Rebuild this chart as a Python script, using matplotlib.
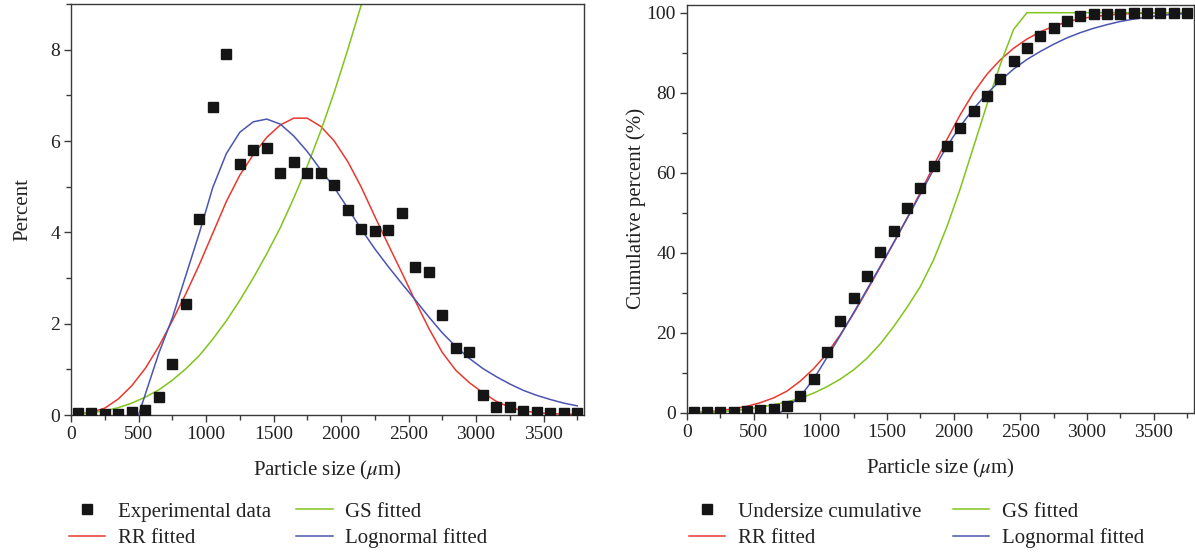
import matplotlib
matplotlib.use("Agg")
import matplotlib.pyplot as plt
from matplotlib.ticker import MultipleLocator

plt.rcParams['font.family'] = ['Liberation Serif', 'DejaVu Serif']
plt.rcParams['mathtext.fontset'] = 'stix'

# particle size classes (um)
size = [50, 150, 250, 350, 450, 550, 650, 750, 850, 950,
        1050, 1150, 1250, 1350, 1450, 1550, 1650, 1750, 1850, 1950,
        2050, 2150, 2250, 2350, 2450, 2550, 2650, 2750, 2850, 2950,
        3050, 3150, 3250, 3350, 3450, 3550, 3650, 3750]

# left panel: frequency (%)
exp_pct = [0.04, 0.04, 0.03, 0.03, 0.07, 0.12, 0.40, 1.12, 2.42, 4.30,
           6.75, 7.90, 5.50, 5.81, 5.85, 5.30, 5.54, 5.29, 5.29, 5.04,
           4.49, 4.08, 4.04, 4.05, 4.43, 3.24, 3.13, 2.18, 1.47, 1.37,
           0.44, 0.17, 0.17, 0.09, 0.07, 0.04, 0.04, 0.04]
rr_pct = [0.02, 0.06, 0.15, 0.35, 0.64, 1.02, 1.50, 2.06, 2.65, 3.29,
          3.98, 4.67, 5.25, 5.70, 6.08, 6.35, 6.50, 6.50, 6.32, 6.00,
          5.55, 4.99, 4.35, 3.73, 3.12, 2.50, 1.90, 1.37, 0.98, 0.71,
          0.49, 0.30, 0.17, 0.09, 0.05, 0.03, 0.02, 0.01]
gs_size = [50, 150, 250, 350, 450, 550, 650, 750, 850, 950,
           1050, 1150, 1250, 1350, 1450, 1550, 1650, 1750, 1850, 1950,
           2050, 2150, 2250]
gs_pct = [0.02, 0.05, 0.09, 0.16, 0.26, 0.39, 0.55, 0.76, 1.01, 1.30,
          1.66, 2.06, 2.51, 3.00, 3.53, 4.10, 4.75, 5.45, 6.22, 7.07,
          8.00, 8.98, 10.0]
ln_size = [500, 550, 650, 750, 850, 950,
           1050, 1150, 1250, 1350, 1450, 1550, 1650, 1750, 1850, 1950,
           2050, 2150, 2250, 2350, 2450, 2550, 2650, 2750, 2850, 2950,
           3050, 3150, 3250, 3350, 3450, 3550, 3650, 3750]
ln_pct = [0.0, 0.45, 1.35, 2.12, 3.05, 3.98,
          4.98, 5.72, 6.19, 6.42, 6.48, 6.37, 6.11, 5.77, 5.37, 4.98,
          4.53, 4.07, 3.64, 3.25, 2.88, 2.52, 2.15, 1.80, 1.50, 1.24,
          1.02, 0.84, 0.68, 0.54, 0.43, 0.34, 0.26, 0.20]

# right panel: cumulative undersize (%)
exp_cum = [0.1, 0.15, 0.2, 0.3, 0.5, 0.7, 1.0, 1.8, 4.1, 8.4,
           15.2, 23.0, 28.6, 34.3, 40.1, 45.5, 51.1, 56.3, 61.75, 66.75,
           71.25, 75.4, 79.3, 83.4, 87.9, 91.1, 94.2, 96.3, 97.9, 99.25,
           99.7, 99.7, 99.8, 99.85, 99.9, 99.9, 99.95, 100.0]
rr_cum = [0.05, 0.2, 0.5, 1.0, 1.6, 2.5, 3.7, 5.4, 7.9, 11.0,
          14.8, 19.5, 24.8, 30.5, 36.4, 42.4, 48.6, 55.0, 61.7, 68.3,
          74.5, 80.0, 84.6, 88.2, 91.1, 93.4, 95.2, 96.6, 97.7, 98.5,
          99.0, 99.4, 99.65, 99.8, 99.9, 99.95, 99.97, 99.99]
gs_cum = [0.0, 0.05, 0.2, 0.5, 0.9, 1.4, 2.0, 2.7, 3.6, 4.9,
          6.5, 8.4, 10.7, 13.6, 17.2, 21.5, 26.3, 31.5, 38.2, 46.5,
          56.0, 66.5, 77.0, 87.0, 95.8, 100, 100, 100, 100, 100,
          100, 100, 100, 100, 100, 100, 100, 100]
ln_cum_size = [700, 750, 850, 950,
               1050, 1150, 1250, 1350, 1450, 1550, 1650, 1750, 1850, 1950,
               2050, 2150, 2250, 2350, 2450, 2550, 2650, 2750, 2850, 2950,
               3050, 3150, 3250, 3350, 3450, 3550, 3650, 3750]
ln_cum = [0.0, 1.3, 4.1, 8.4,
          13.8, 19.3, 25.0, 30.8, 36.6, 42.5, 48.5, 54.6, 60.8, 66.6,
          71.6, 76.0, 79.8, 83.0, 85.9, 88.3, 90.3, 92.1, 93.7, 95.0,
          96.1, 97.0, 97.8, 98.4, 98.9, 99.3, 99.6, 99.8]

RED = '#e8392f'
BLUE = '#4b55b0'
GREEN = '#80c41c'
DOT = '#151515'
AXC = '#3a3a3a'

W, H = 1195, 552
fig = plt.figure(figsize=(W / 100, H / 100), dpi=100)
ax1 = fig.add_axes([71 / W, 1 - 415 / H, 513 / W, 411 / H])
ax2 = fig.add_axes([687 / W, 1 - 412.7 / H, 506.5 / W, 408 / H])


def style(ax):
    for s in ax.spines.values():
        s.set_color(AXC)
        s.set_linewidth(1.0)
    ax.tick_params(which='both', direction='out', color=AXC, top=False, right=False,
                   labelsize=14, labelcolor='#222222')
    ax.tick_params(which='major', length=5, width=1.0, pad=3)
    ax.tick_params(which='minor', length=3.5, width=1.0)
    ax.set_xlim(0, 3800)
    ax.xaxis.set_major_locator(MultipleLocator(500))
    ax.xaxis.set_minor_locator(MultipleLocator(250))
    ax.set_xlabel(r'Particle size ($\mu$m)', fontsize=15, color='#222222', labelpad=11.5)


def legend(ax, x, colsp):
    h, l = ax.get_legend_handles_labels()
    order = [3, 0, 1, 2]
    ax.legend([h[i] for i in order], [l[i] for i in order], ncol=2, frameon=False,
              loc='upper left', bbox_to_anchor=(x / W, 1 - 502 / H), bbox_transform=fig.transFigure,
              borderpad=0, borderaxespad=0, handlelength=1.75, handletextpad=0.6,
              columnspacing=colsp, labelspacing=0.32, fontsize=15, labelcolor='#222222')


# left: frequency
ax1.plot(size, rr_pct, color=RED, lw=1.1, label='RR fitted', zorder=2)
ax1.plot(gs_size, gs_pct, color=GREEN, lw=1.1, label='GS fitted', zorder=2)
ax1.plot(ln_size, ln_pct, color=BLUE, lw=1.1, label='Lognormal fitted', zorder=2)
ax1.plot(size, exp_pct, 's', color=DOT, ms=7.5, ls='none', label='Experimental data', zorder=3)
style(ax1)
ax1.set_ylim(0, 9)
ax1.yaxis.set_major_locator(MultipleLocator(2))
ax1.yaxis.set_minor_locator(MultipleLocator(1))
ax1.set_ylabel('Percent', fontsize=15, color='#222222', labelpad=12.5)
legend(ax1, 69, 1.2)

# right: cumulative
ax2.plot(size, rr_cum, color=RED, lw=1.1, label='RR fitted', zorder=2)
ax2.plot(size, gs_cum, color=GREEN, lw=1.1, label='GS fitted', zorder=2)
ax2.plot(ln_cum_size, ln_cum, color=BLUE, lw=1.1, label='Lognormal fitted', zorder=2)
ax2.plot(size, exp_cum, 's', color=DOT, ms=7.5, ls='none', label='Undersize cumulative', zorder=3)
style(ax2)
ax2.set_ylim(0, 102)
ax2.yaxis.set_major_locator(MultipleLocator(20))
ax2.yaxis.set_minor_locator(MultipleLocator(10))
ax2.set_ylabel('Cumulative percent (%)', fontsize=15, color='#222222', labelpad=0.5)
legend(ax2, 689, 1.5)

plt.savefig('out.png', dpi=100)
